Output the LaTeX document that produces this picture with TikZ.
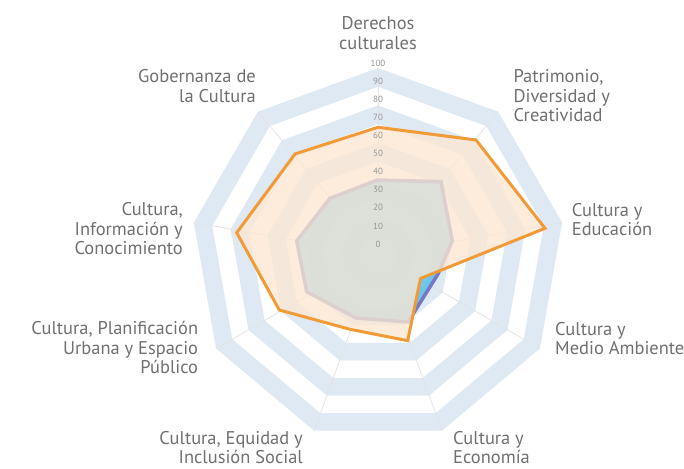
\documentclass[tikz,border=0pt]{standalone}
\usepackage{fontspec}
\setmainfont{PT Sans}
\definecolor{bandblue}{RGB}{222,233,243}
\definecolor{spokegray}{RGB}{228,228,228}
\definecolor{labelgray}{RGB}{112,112,112}
\definecolor{tickgray}{RGB}{150,150,150}
\definecolor{seriesorange}{RGB}{241,155,56}
\definecolor{orangefill}{RGB}{252,231,210}
\definecolor{bluefill}{RGB}{90,190,237}
\definecolor{blueline}{RGB}{115,122,195}
\begin{document}
\begin{tikzpicture}[x=1bp,y=1bp,
  lbl/.style={font=\fontsize{18.5}{19.7}\selectfont, text=labelgray, inner sep=0pt},
  tick/.style={font=\fontsize{9}{9}\selectfont, text=tickgray, inner sep=0pt},
  band/.style={fill=bandblue, even odd rule},
  spoke/.style={draw=spokegray, line width=0.8bp},
  blueseries/.style={fill=bluefill, fill opacity=0.85, draw=blueline, draw opacity=1, line width=3.5bp, line join=miter},
  orangeseries/.style={fill=orangefill, fill opacity=0.78, draw=seriesorange, draw opacity=1, line width=3bp, line join=miter}]
\useasboundingbox (0,0) rectangle (684,469);
\coordinate (C) at (378,214);
\begin{scope}[shift={(C)}]
  \foreach \lo/\hi in {10/20,30/40,50/60,70/80,90/100}{
    \fill[band] plot[samples at={0,...,8}] ({90+40*\x}:{\hi*1.87}) -- cycle
                plot[samples at={0,...,8}] ({90+40*\x}:{\lo*1.87}) -- cycle;
  }
  \foreach \k in {0,...,8}{
    \coordinate (S\k) at ({90+40*\k}:187);
    \draw[spoke] (0,0) -- (S\k);
  }
\end{scope}
% blue series
\draw[blueseries] (377.5,289) -- (441,287.3) -- (452.3,228) -- (438,195) -- (408,147)
  -- (356,151) -- (306.7,177.3) -- (296.7,228) -- (330,270.7) -- cycle;
% orange series
\draw[orangeseries] (378,341.7) -- (476,329) -- (545,240.7) -- (420.5,190.5) -- (407.7,128.3)
  -- (350,139.7) -- (279.3,159) -- (236.7,236.3) -- (295,315) -- cycle;
% tick labels
\foreach \v in {0,10,...,100}{
  \node[tick] (t\v) at (378,{225+1.807*\v}) {\v};
}
% category labels (anchor = baseline of the last line)
\node[lbl, anchor=base, align=center] (l0) at (378,419.5) {Derechos\\culturales};
\node[lbl, anchor=base west, align=left] (l1) at (513.3,347.3) {Patrimonio,\\Diversidad y\\Creatividad};
\node[lbl, anchor=base west, align=left] (l2) at (571.7,233.3) {Cultura y\\Educación};
\node[lbl, anchor=base west, align=left] (l3) at (555,114) {Cultura y\\Medio Ambiente};
\node[lbl, anchor=base west, align=left] (l4) at (453,5) {Cultura y\\Economía};
\node[lbl, anchor=base east, align=right] (l5) at (303,5) {Cultura, Equidad y\\Inclusión Social};
\node[lbl, anchor=base east, align=right] (l6) at (198.3,95) {Cultura, Planificación\\Urbana y Espacio\\Público};
\node[lbl, anchor=base east, align=right] (l7) at (183,214) {Cultura,\\Información y\\Conocimiento};
\node[lbl, anchor=base east, align=right] (l8) at (256,366.5) {Gobernanza de\\la Cultura};
\end{tikzpicture}
\end{document}
